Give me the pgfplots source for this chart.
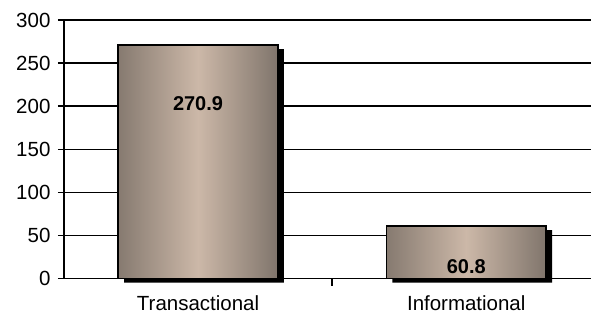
\documentclass[border=0pt]{standalone}
\usepackage{pgfplots}
\pgfplotsset{compat=1.18}
\usepackage{fontspec}
\setmainfont{Liberation Sans}
\definecolor{bardark}{RGB}{134,122,112}
\definecolor{bardarkr}{RGB}{128,117,108}
\definecolor{barlight}{RGB}{204,184,168}
\begin{document}
\begin{tikzpicture}
\begin{axis}[
  scale only axis, width=528bp, height=259bp,
  xmin=-0.5, xmax=1.466, ymin=0, ymax=300,
  clip=false,
  axis x line*=bottom, axis y line*=left,
  axis line style={black, line width=1.5bp},
  ytick={0,50,...,300},
  xtick={0,1}, xticklabels={Transactional, Informational},
  x tick style={draw=none},
  extra x ticks={0.5}, extra x tick labels={},
  extra x tick style={x tick style={draw=black, line width=1.5bp}, major tick length=7bp, xmajorgrids=false},
  tick align=outside,
  major tick length=6bp,
  y tick style={black, line width=1.5bp},
  ymajorgrids, grid style={black, line width=1.5bp},
  /pgf/number format/assume math mode=true,
  tick label style={font=\fontsize{20.5bp}{24bp}\selectfont, black},
  yticklabel style={xshift=-4bp},
  xticklabel style={yshift=-8bp},
  ybar, bar width=160bp,
  barstyle/.style={ybar, draw=black, line width=1.5bp, bar shift=0pt,
    left color=bardark, right color=bardarkr, middle color=barlight},
]
\addplot[ybar, fill=black, draw=none, bar shift=0pt, xshift=6bp, yshift=-4bp]
  coordinates {(0,270.9) (1,60.8)};
\addplot[barstyle] coordinates {(0,270.9)};
\addplot[barstyle] coordinates {(1,60.8)};
\node[font=\fontsize{20bp}{24bp}\selectfont\bfseries] at (axis cs:0,203) {270.9};
\node[font=\fontsize{20bp}{24bp}\selectfont\bfseries] at (axis cs:1,14.5) {60.8};
\path (rel axis cs:-0.1212,-0.1737) rectangle (rel axis cs:1,1.0772);
\end{axis}
\end{tikzpicture}
\end{document}
